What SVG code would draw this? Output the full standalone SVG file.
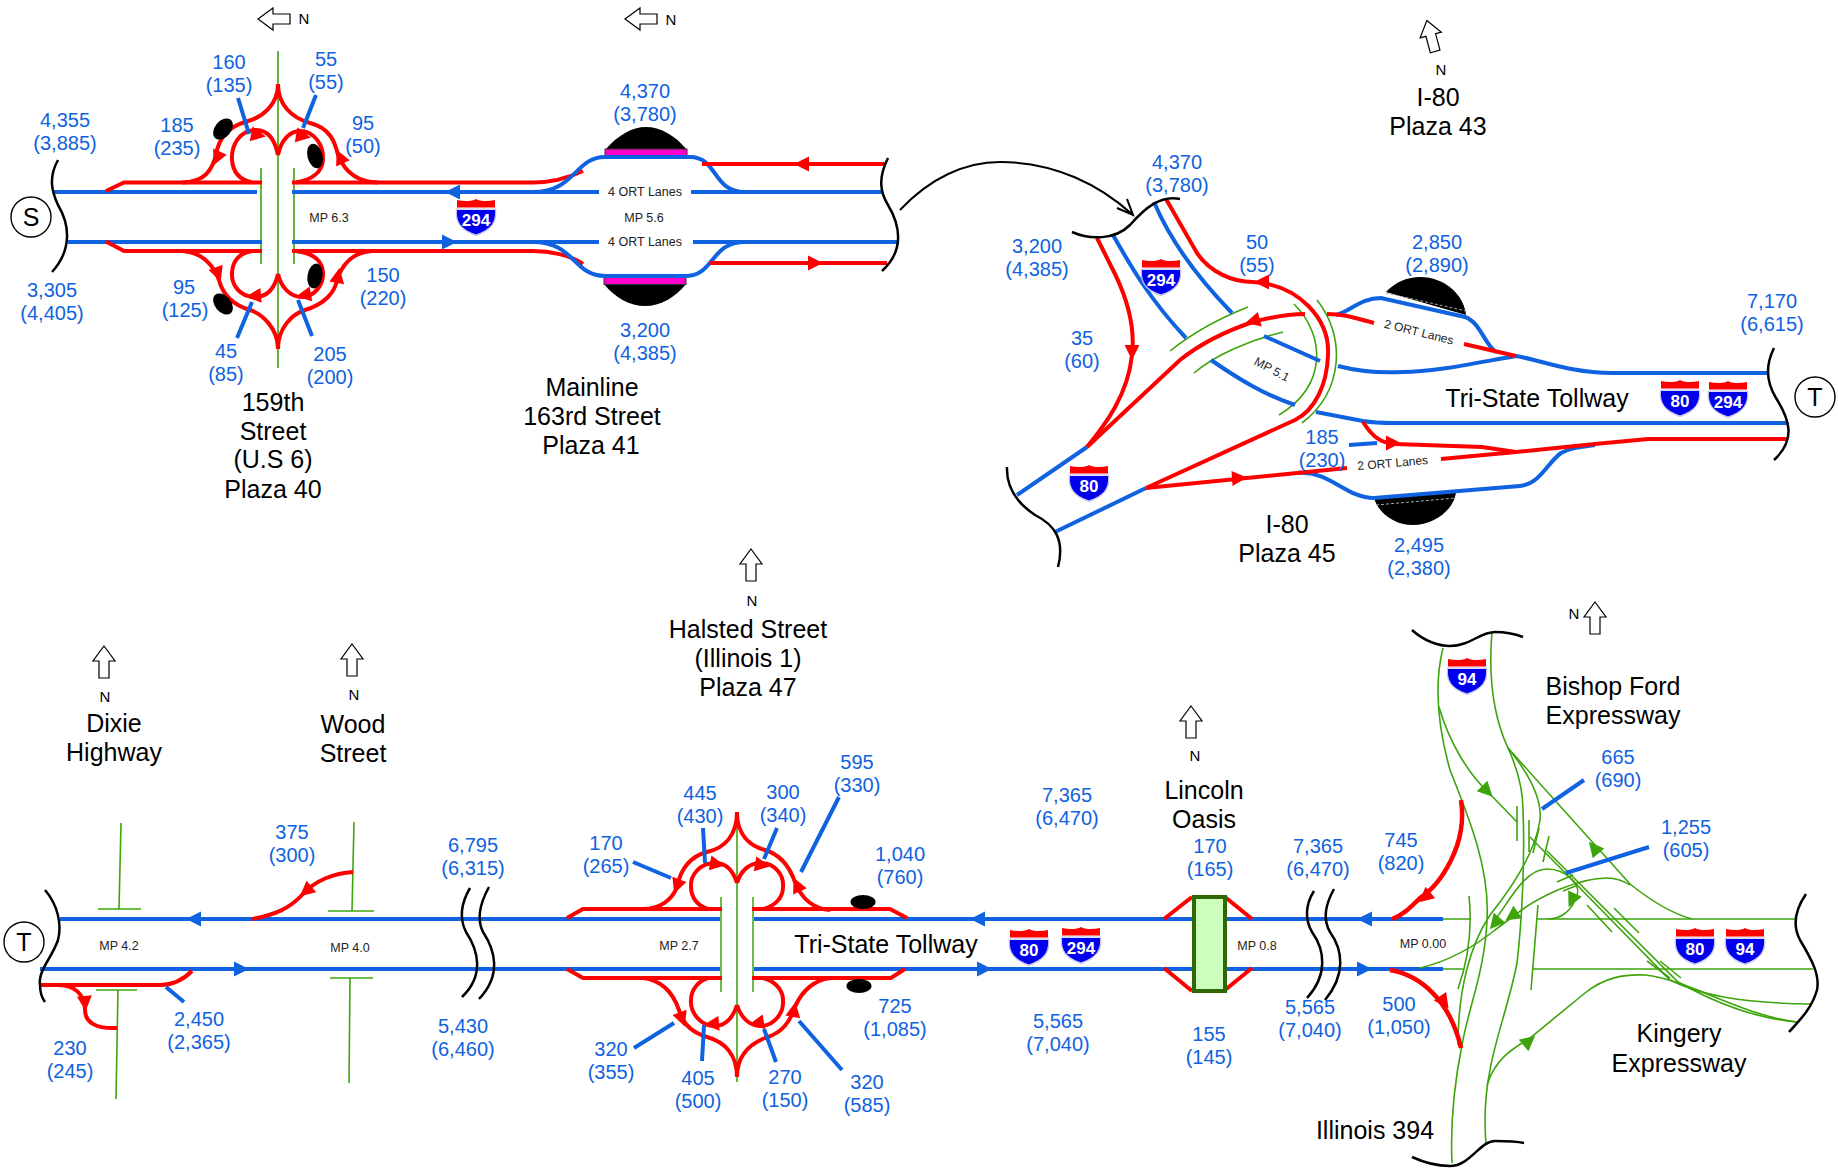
<svg xmlns="http://www.w3.org/2000/svg" xmlns:xlink="http://www.w3.org/1999/xlink" width="1838" height="1168" viewBox="0 0 1838 1168">
<style>
text{font-family:"Liberation Sans",Arial,sans-serif}
.b,.r,.g,.gl,.k,.dash{fill:none;stroke-linecap:butt}
.b{stroke:#0f62e0;stroke-width:4}
.r{stroke:#ff0000;stroke-width:4}
.g{stroke:#3da40c;stroke-width:1.6}
.gl{stroke:#6cbc4a;stroke-width:2}
.k{stroke:#000;stroke-width:2.5}
.af-r{fill:#ff0000}.af-b{fill:#0f62e0}.af-g{fill:#3da40c}
.v{fill:#0f62e0;font-size:20px;text-anchor:middle}
.t{fill:#000;font-size:25px;text-anchor:middle}
.m{fill:#222;font-size:12.5px;text-anchor:middle}
.n{fill:#000;font-size:15px;text-anchor:middle}
.s{fill:#fff;font-size:17px;font-weight:bold;text-anchor:middle}
.dash{stroke:#aaa;stroke-width:1;stroke-dasharray:3 2}
.north{fill:#fff;stroke:#000;stroke-width:1.2}
.c{fill:#fff;stroke:#000;stroke-width:1.4}
</style>
<defs>
<path id="a" d="M8 0L-7 -7.500L-7 7.500Z" style="stroke:none"/>
<path id="ag" d="M8 0L-7 -7.500L-7 7.500Z" style="stroke:none"/>
<g id="sh">
<path d="M-19.5 -8C-21 5 -16 13 0 18.5C16 13 21 5 19.5 -8Z" style="fill:#fff;stroke:#b8b8e8;stroke-width:1"/>
<path d="M-19 -7C-20 5 -15 12.5 0 17.5C15 12.5 20 5 19 -7Z" style="fill:#0000ee;stroke:none"/>
<path d="M-19 -9.5V-17C-12 -15.5 -4 -15.5 0 -18C4 -15.5 12 -15.5 19 -17V-9.5Z" style="fill:#ff0000;stroke:none"/>
</g>
<path id="up" d="M0 -16L11 -1H5V16H-5V-1H-11Z"/>
</defs>
<rect width="1838" height="1168" fill="#fff"/>

<g id="plaza-40">
<use href="#up" class="north" transform="translate(274,19) rotate(-90)"/>
<text class="n" x="304" y="24">N</text>
<g id="ramps-40">
<line class="g" x1="278" y1="51" x2="278" y2="368"/>
<line class="g" x1="261" y1="168" x2="261" y2="264"/>
<line class="g" x1="294" y1="168" x2="294" y2="264"/>
<path class="b" d="M54 192H257M292 192H599M68 242H262M292 242H599"/>
<path class="r" d="M106 191L124 182.500H262M292 182.500H533C550 182.500 568 178 583 171"/>
<path class="r" d="M106 241.500L124 251H262M292 251H533C550 251 570 255 583 264"/>
<path class="r" d="M278 84C278 105 262 118 245 122C225 128 218 142 216 155C212 170 205 182 182 182.500"/>
<path class="r" d="M278 84C278 105 292 118 310 123C330 128 335 142 338 155C344 170 355 182 378 182.500"/>
<path class="r" d="M278 155C275 140 268 130 256 130C240 130 231 145 232 160C233 172 240 180 252 182.500"/>
<path class="r" d="M278 155C281 140 290 131 300 131C314 131 324 145 323 160C322 172 312 180 296 182.500"/>
<path class="r" d="M278 349C278 328 262 314 250 310C230 304 222 292 219 280C212 262 200 252 182 251"/>
<path class="r" d="M278 349C278 328 292 314 305 310C325 304 335 292 337 280C343 262 355 252 372 251"/>
<path class="r" d="M278 274C275 287 268 297 255 297C240 297 231 285 232 272C233 260 240 253 252 251"/>
<path class="r" d="M278 274C281 287 290 297 302 297C314 297 324 285 323 272C322 260 312 253 296 251"/>
<use href="#a" class="af-r" transform="translate(217,158) rotate(115)"/>
<use href="#a" class="af-r" transform="translate(340,157) rotate(-115)"/>
<use href="#a" class="af-r" transform="translate(258,135) rotate(10)"/>
<use href="#a" class="af-r" transform="translate(303,136) rotate(10)"/>
<use href="#a" class="af-r" transform="translate(218,274) rotate(70)"/>
<use href="#a" class="af-r" transform="translate(338,276) rotate(-80)"/>
<use href="#a" class="af-r" transform="translate(254,296) rotate(175)"/>
<use href="#a" class="af-r" transform="translate(304,295) rotate(170)"/>
<use href="#a" class="af-b" transform="translate(453,192) rotate(180)"/>
<use href="#a" class="af-b" transform="translate(449,242)"/>
</g>
<ellipse cx="223" cy="129" rx="8" ry="12" transform="rotate(40 223 129)"/>
<ellipse cx="315" cy="156" rx="7.500" ry="12.500" transform="rotate(-15 315 156)"/>
<ellipse cx="223" cy="304" rx="8" ry="12" transform="rotate(-40 223 304)"/>
<ellipse cx="315" cy="276" rx="7.500" ry="12.500" transform="rotate(10 315 276)"/>
<path class="b" d="M238 98L249 134M316 95L303 128M237 338L252 302M312 336L298 300"/>
<path class="k" d="M58 160C48 178 52 192 58 205C70 225 72 250 52 272"/>
<circle class="c" cx="31" cy="217" r="20"/>
<text x="31" y="226" class="t">S</text>
<text class="m" x="329" y="222">MP 6.3</text>
<text class="v" x="65" y="127">4,355</text><text class="v" x="65" y="150">(3,885)</text>
<text class="v" x="52" y="297">3,305</text><text class="v" x="52" y="320">(4,405)</text>
<text class="v" x="177" y="132">185</text><text class="v" x="177" y="155">(235)</text>
<text class="v" x="184" y="294">95</text><text class="v" x="185" y="317">(125)</text>
<text class="v" x="229" y="69">160</text><text class="v" x="229" y="92">(135)</text>
<text class="v" x="326" y="66">55</text><text class="v" x="326" y="89">(55)</text>
<text class="v" x="363" y="130">95</text><text class="v" x="363" y="153">(50)</text>
<text class="v" x="383" y="282">150</text><text class="v" x="383" y="305">(220)</text>
<text class="v" x="226" y="358">45</text><text class="v" x="226" y="381">(85)</text>
<text class="v" x="330" y="361">205</text><text class="v" x="330" y="384">(200)</text>
<text class="t" x="273" y="411">159th</text><text class="t" x="273" y="440">Street</text><text class="t" x="273" y="468">(U.S 6)</text><text class="t" x="273" y="498">Plaza 40</text>
</g>

<g id="plaza-41">
<use href="#up" class="north" transform="translate(641,19) rotate(-90)"/>
<text class="n" x="671" y="25">N</text>
<path d="M605 150C618 135 632 127 646 127C660 127 675 135 687 150Z"/>
<path d="M604 284C615 298 630 306 645 306C660 306 675 298 686 284Z"/>
<rect x="605" y="149" width="82" height="7.500" fill="#ff00cc" stroke="#333" stroke-width="1"/>
<rect x="604" y="277" width="82" height="7.500" fill="#ff00cc" stroke="#333" stroke-width="1"/>
<g id="roads-41">
<path class="b" d="M691 192H883M693 242H898"/>
<path class="b" d="M533 192C575 192 575 157 605 157H690C718 157 712 192 745 192"/>
<path class="b" d="M533 242C575 242 573 276 605 276H685C715 276 710 242 745 242"/>
<path class="r" d="M702 164H885M710 263H887"/>
<use href="#a" class="af-r" transform="translate(802,164) rotate(180)"/>
<use href="#a" class="af-r" transform="translate(815,263)"/>
</g>
<use href="#sh" x="476" y="217"/><text class="s" x="476" y="226">294</text>
<text class="m" x="645" y="196">4 ORT Lanes</text>
<text class="m" x="644" y="222">MP 5.6</text>
<text class="m" x="645" y="246">4 ORT Lanes</text>
<path class="k" d="M888 158C878 178 880 192 888 205C900 225 905 250 882 271"/>
<text class="v" x="645" y="98">4,370</text><text class="v" x="645" y="121">(3,780)</text>
<text class="v" x="645" y="337">3,200</text><text class="v" x="645" y="360">(4,385)</text>
<text class="t" x="592" y="396">Mainline</text><text class="t" x="592" y="425">163rd Street</text><text class="t" x="591" y="454">Plaza 41</text>
</g>

<g id="link-arrow">
<path class="k" style="stroke-width:2" d="M900 210C930 178 965 162 1000 162C1055 162 1100 185 1133 215M1117 208L1133 215L1127 199"/>
</g>

<g id="plaza-45-43">
<use href="#up" class="north" transform="translate(1431,36) rotate(-15)"/>
<text class="n" x="1441" y="75">N</text>
<path d="M1386 292C1395 282 1408 277 1420 277C1445 277 1464 295 1466 315Z"/>
<path d="M1374 498L1456 492C1454 510 1434 525 1413 525C1393 525 1378 512 1374 498Z"/>
<line class="dash" x1="1386" y1="293" x2="1466" y2="311"/>
<line class="dash" x1="1376" y1="505" x2="1456" y2="498"/>
<g id="roads-45">
<path class="g" d="M1317 300C1345 335 1345 390 1302 423M1294 304C1325 335 1328 385 1279 415M1170 351C1190 335 1215 320 1248 307M1194 373C1215 355 1250 340 1283 332"/>
<path class="b" d="M1017 495L1087 447M1055 532L1146 488"/>
<path class="b" d="M1113 235C1130 265 1150 300 1186 338M1154 202C1170 240 1195 275 1232 313"/>
<path class="b" d="M1211 360C1240 380 1265 395 1295 405M1264 336L1320 361"/>
<path class="b" d="M1338 366C1365 373 1385 373 1403 372C1435 372 1475 363 1516 356C1540 360 1570 373 1612 373H1768"/>
<path class="b" d="M1336 315C1350 312 1360 298 1381 298L1465 317C1480 322 1485 345 1496 352"/>
<path class="b" d="M1316 412L1363 421C1375 423 1385 423 1393 423H1787"/>
<path class="b" d="M1297 473C1330 470 1345 498 1374 498L1520 486C1540 484 1548 462 1561 453C1570 448 1580 447 1595 445"/>
<path class="r" d="M1097 238L1115 274C1130 305 1135 330 1132 355C1128 395 1105 425 1087 447"/>
<path class="r" d="M1166 199L1197 253C1210 272 1232 282 1253 282C1300 285 1330 320 1328 355C1327 385 1315 410 1295 420L1146 488"/>
<path class="r" d="M1087 447L1180 360C1205 340 1235 328 1253 322C1275 316 1290 314 1305 314M1327 314C1345 314 1355 318 1374 323"/>
<path class="r" d="M1146 488L1297 473L1347 468"/>
<path class="r" d="M1464 344L1516 356"/>
<path class="r" d="M1441 459L1516 452L1595 444L1648 439H1787"/>
<path class="r" d="M1363 422C1372 436 1380 443 1395 444L1482 447L1516 452"/>
<use href="#a" class="af-r" transform="translate(1132,352) rotate(90)"/>
<use href="#a" class="af-r" transform="translate(1262,282) rotate(180)"/>
<use href="#a" class="af-r" transform="translate(1253,321) rotate(165)"/>
<use href="#a" class="af-r" transform="translate(1239,478) rotate(-4)"/>
<use href="#a" class="af-r" transform="translate(1393,443)"/>
</g>
<path class="b" d="M1349 445L1377 443"/>
<path class="k" d="M1072 232C1090 240 1115 240 1130 225C1145 208 1160 195 1180 199"/>
<path class="k" d="M1007 467C1006 490 1020 505 1035 515C1055 525 1065 540 1058 567"/>
<path class="k" d="M1774 348C1764 368 1768 385 1776 398C1790 420 1796 440 1774 460"/>
<use href="#sh" x="1161" y="277"/><text class="s" x="1161" y="286">294</text>
<use href="#sh" x="1089" y="483"/><text class="s" x="1089" y="492">80</text>
<use href="#sh" x="1680" y="398"/><text class="s" x="1680" y="407">80</text>
<use href="#sh" x="1728" y="399"/><text class="s" x="1728" y="408">294</text>
<circle class="c" cx="1815" cy="397" r="20"/>
<text x="1815" y="406" class="t">T</text>
<text class="m" style="font-size:12px" transform="translate(1270,373) rotate(28)">MP 5.1</text>
<text class="m" style="font-size:12px" transform="translate(1418,336) rotate(14)">2 ORT Lanes</text>
<text class="m" style="font-size:12px" transform="translate(1393,467) rotate(-5)">2 ORT Lanes</text>
<text class="t" x="1537" y="407">Tri-State Tollway</text>
<text class="v" x="1177" y="169">4,370</text><text class="v" x="1177" y="192">(3,780)</text>
<text class="v" x="1037" y="253">3,200</text><text class="v" x="1037" y="276">(4,385)</text>
<text class="v" x="1082" y="345">35</text><text class="v" x="1082" y="368">(60)</text>
<text class="v" x="1257" y="249">50</text><text class="v" x="1257" y="272">(55)</text>
<text class="v" x="1322" y="444">185</text><text class="v" x="1322" y="467">(230)</text>
<text class="v" x="1437" y="249">2,850</text><text class="v" x="1437" y="272">(2,890)</text>
<text class="v" x="1419" y="552">2,495</text><text class="v" x="1419" y="575">(2,380)</text>
<text class="v" x="1772" y="308">7,170</text><text class="v" x="1772" y="331">(6,615)</text>
<text class="t" x="1287" y="533">I-80</text><text class="t" x="1287" y="562">Plaza 45</text>
<text class="t" x="1438" y="106">I-80</text><text class="t" x="1438" y="135">Plaza 43</text>
</g>

<g id="tollway-south">
<g id="roads-south">
<path class="gl" d="M98 909H141M96 990H137M328 911H374M330 978H373"/>
<path class="g" d="M121 823L119 909M118 990L116 1099M354 822L352 911M350 978L349 1083"/>
<path class="b" d="M60 919H722M752 919H1443M40 969H722M752 969H1443"/>
<path class="r" d="M40 985H160C173 985 183 980 192 971"/>
<path class="r" d="M58 985C75 985 85 995 85 1010C85 1022 95 1029 117 1028"/>
<path class="r" d="M252 919C275 915 290 908 302 895C315 880 335 873 353 872"/>
<use href="#a" class="af-r" transform="translate(85,1003) rotate(85)"/>
<use href="#a" class="af-r" transform="translate(306,891) rotate(140)"/>
<use href="#a" class="af-b" transform="translate(194,919) rotate(180)"/>
<use href="#a" class="af-b" transform="translate(241,969)"/>
<use href="#a" class="af-b" transform="translate(978,919) rotate(180)"/>
<use href="#a" class="af-b" transform="translate(984,969)"/>
<use href="#a" class="af-b" transform="translate(1365,919) rotate(180)"/>
<use href="#a" class="af-b" transform="translate(1364,969)"/>
</g>
<path class="b" d="M166 987L184 1002"/>
<path class="k" d="M45 890C58 905 62 925 58 940C52 958 38 970 40 985C40 992 42 998 45 1002"/>
<circle class="c" cx="24" cy="942" r="20"/>
<text x="24" y="951" class="t">T</text>
<path class="k" d="M470 888C460 905 460 920 466 932C478 950 485 975 462 997M489 887C479 905 477 920 483 932C495 950 502 975 479 999"/>
<path class="k" d="M1314 891C1305 905 1305 920 1312 932C1325 950 1328 975 1307 998M1334 889C1325 905 1323 920 1330 932C1343 950 1346 975 1325 1000"/>
<use href="#up" class="north" transform="translate(104,662)"/><text class="n" x="105" y="702">N</text>
<use href="#up" class="north" transform="translate(352,660)"/><text class="n" x="354" y="700">N</text>
<text class="t" x="114" y="732">Dixie</text><text class="t" x="114" y="761">Highway</text>
<text class="t" x="353" y="733">Wood</text><text class="t" x="353" y="762">Street</text>
<text class="m" x="119" y="950">MP 4.2</text><text class="m" x="350" y="952">MP 4.0</text>
<text class="v" x="292" y="839">375</text><text class="v" x="292" y="862">(300)</text>
<text class="v" x="473" y="852">6,795</text><text class="v" x="473" y="875">(6,315)</text>
<text class="v" x="463" y="1033">5,430</text><text class="v" x="463" y="1056">(6,460)</text>
<text class="v" x="199" y="1026">2,450</text><text class="v" x="199" y="1049">(2,365)</text>
<text class="v" x="70" y="1055">230</text><text class="v" x="70" y="1078">(245)</text>
</g>

<g id="plaza-47">
<use href="#up" class="north" transform="translate(751,565)"/><text class="n" x="752" y="606">N</text>
<text class="t" x="748" y="638">Halsted Street</text><text class="t" x="748" y="667">(Illinois 1)</text><text class="t" x="748" y="696">Plaza 47</text>
<g id="roads-47">
<line class="g" x1="737" y1="815" x2="737" y2="1082"/>
<line class="gl" x1="721" y1="897" x2="721" y2="992"/><line class="gl" x1="753" y1="897" x2="753" y2="992"/>
<path class="r" d="M567 918L583 909H722M752 909H890L907 918"/>
<path class="r" d="M567 969L583 978H722M752 978H891L905 969"/>
<path class="r" d="M737 812C737 835 725 848 707 852C688 857 680 872 677 887C672 900 660 909 643 909"/>
<path class="r" d="M737 812C737 835 750 846 765 850C782 855 790 868 795 882C802 900 815 909 830 910"/>
<path class="r" d="M737 883C733 870 725 863 715 863C700 863 690 875 691 887C691 898 698 906 708 909"/>
<path class="r" d="M737 883C741 870 750 863 760 863C775 863 784 875 783 887C783 898 775 906 763 909"/>
<path class="r" d="M737 1077C737 1055 725 1042 707 1037C690 1032 682 1022 679 1010C672 990 660 980 643 978"/>
<path class="r" d="M737 1077C737 1055 750 1044 765 1038C782 1033 790 1022 795 1007C802 990 815 980 830 978"/>
<path class="r" d="M737 1005C733 1018 725 1026 715 1026C700 1026 690 1012 691 1000C691 990 698 981 708 978"/>
<path class="r" d="M737 1005C741 1018 750 1026 760 1026C775 1026 784 1012 783 1000C783 990 775 981 763 978"/>
<use href="#a" class="af-r" transform="translate(677,886) rotate(110)"/>
<use href="#a" class="af-r" transform="translate(717,864) rotate(10)"/>
<use href="#a" class="af-r" transform="translate(762,865) rotate(10)"/>
<use href="#a" class="af-r" transform="translate(797,885) rotate(-115)"/>
<use href="#a" class="af-r" transform="translate(682,1019) rotate(70)"/>
<use href="#a" class="af-r" transform="translate(712,1024) rotate(175)"/>
<use href="#a" class="af-r" transform="translate(757,1023) rotate(170)"/>
<use href="#a" class="af-r" transform="translate(794,1010) rotate(-80)"/>
</g>
<ellipse cx="863" cy="902" rx="12.500" ry="7"/><ellipse cx="859" cy="986" rx="12.500" ry="7"/>
<path class="b" d="M633 862L671 878M703 828L705 863M777 828L764 859M839 797L801 872M674 1023L634 1048M704 1025L702 1061M764 1029L776 1062M799 1021L842 1070"/>
<text class="m" x="679" y="950">MP 2.7</text>
<text class="t" x="886" y="953">Tri-State Tollway</text>
<use href="#sh" x="1029" y="947"/><text class="s" x="1029" y="956">80</text>
<use href="#sh" x="1081" y="945"/><text class="s" x="1081" y="954">294</text>
<text class="v" x="606" y="850">170</text><text class="v" x="606" y="873">(265)</text>
<text class="v" x="700" y="800">445</text><text class="v" x="700" y="823">(430)</text>
<text class="v" x="783" y="799">300</text><text class="v" x="783" y="822">(340)</text>
<text class="v" x="857" y="769">595</text><text class="v" x="857" y="792">(330)</text>
<text class="v" x="900" y="861">1,040</text><text class="v" x="900" y="884">(760)</text>
<text class="v" x="895" y="1013">725</text><text class="v" x="895" y="1036">(1,085)</text>
<text class="v" x="611" y="1056">320</text><text class="v" x="611" y="1079">(355)</text>
<text class="v" x="698" y="1085">405</text><text class="v" x="698" y="1108">(500)</text>
<text class="v" x="785" y="1084">270</text><text class="v" x="785" y="1107">(150)</text>
<text class="v" x="867" y="1089">320</text><text class="v" x="867" y="1112">(585)</text>
<text class="v" x="1067" y="802">7,365</text><text class="v" x="1067" y="825">(6,470)</text>
<text class="v" x="1058" y="1028">5,565</text><text class="v" x="1058" y="1051">(7,040)</text>
</g>

<g id="lincoln-oasis">
<path class="r" d="M1164 919L1192 897M1225 897L1252 919M1164 968L1192 991M1225 990L1252 968"/>
<rect x="1194" y="897" width="31" height="94" fill="#ccffbb" stroke="#2d6a05" stroke-width="4"/>
<use href="#up" class="north" transform="translate(1191,722)"/><text class="n" x="1195" y="761">N</text>
<text class="t" x="1204" y="799">Lincoln</text><text class="t" x="1204" y="828">Oasis</text>
<text class="m" x="1257" y="950">MP 0.8</text>
<text class="v" x="1210" y="853">170</text><text class="v" x="1210" y="876">(165)</text>
<text class="v" x="1209" y="1041">155</text><text class="v" x="1209" y="1064">(145)</text>
<text class="v" x="1318" y="853">7,365</text><text class="v" x="1318" y="876">(6,470)</text>
<text class="v" x="1310" y="1014">5,565</text><text class="v" x="1310" y="1037">(7,040)</text>
</g>

<g id="interchange">
<g id="roads-interchange">
<path class="g" d="M1443 648C1435 680 1436 720 1450 770C1470 820 1490 870 1487 920C1485 970 1468 1010 1462 1045C1455 1080 1450 1120 1452 1163"/>
<path class="g" d="M1439 707C1450 745 1470 775 1487 791L1517 822"/>
<path class="g" d="M1492 632C1488 680 1495 720 1508 748C1518 770 1523 790 1523 810C1525 860 1522 920 1517 963C1510 1000 1495 1040 1490 1070C1485 1095 1484 1120 1486 1144"/>
<path class="g" d="M1508 748L1630 884C1650 900 1670 913 1692 919"/>
<path class="g" d="M1508 748C1530 775 1542 800 1540 820C1535 855 1510 890 1490 915C1470 945 1458 990 1458 1045"/>
<path class="g" d="M1530 837L1670 980C1700 995 1740 1003 1810 1004"/>
<path class="g" d="M1547 851L1678 982C1710 1000 1750 1018 1797 1022"/>
<path class="g" d="M1487 1085C1495 1060 1510 1050 1530 1038L1585 993C1605 977 1625 974 1645 975C1690 980 1740 1015 1797 1022"/>
<path class="g" d="M1443 919H1470M1537 919H1796M1443 969H1463M1532 969H1813"/>
<path class="g" d="M1469 896C1472 925 1470 955 1458 989M1538 905L1531 990M1517 806V841M1529 820V852M1539 828L1533 853M1549 836L1543 862M1557 882L1573 875M1563 891L1578 885M1587 905L1612 932M1614 908L1639 933M1647 961L1670 978M1660 961L1681 978"/>
<path class="g" d="M1420 968C1445 962 1470 950 1495 930L1515 915C1540 895 1580 878 1607 878C1615 878 1622 880 1630 885"/>
<path class="g" d="M1495 920C1510 900 1525 869 1547 869C1565 869 1585 885 1575 900C1570 912 1560 919 1548 919"/>
<use href="#ag" class="af-g" transform="translate(1487,791) rotate(45)"/>
<use href="#ag" class="af-g" transform="translate(1594,848) rotate(-130)"/>
<use href="#ag" class="af-g" transform="translate(1572,900) rotate(115)"/>
<use href="#ag" class="af-g" transform="translate(1512,916) rotate(145)"/>
<use href="#ag" class="af-g" transform="translate(1495,923) rotate(130)"/>
<use href="#ag" class="af-g" transform="translate(1529,1041) rotate(-40)"/>
<path class="r" style="stroke-width:4.500" d="M1461 800C1468 845 1440 885 1420 898C1410 908 1403 915 1392 919"/>
<path class="r" style="stroke-width:4.500" d="M1390 970C1420 975 1450 1000 1461 1048"/>
<use href="#a" class="af-r" transform="translate(1425,897) rotate(140)"/>
<use href="#a" class="af-r" transform="translate(1444,1002) rotate(55)"/>
</g>
<path class="b" d="M1542 809L1584 780M1566 873L1649 847"/>
<path class="k" d="M1412 630C1425 642 1440 646 1450 646C1470 646 1480 632 1495 632C1505 632 1515 634 1523 637"/>
<path class="k" d="M1412 1157C1425 1163 1440 1166 1450 1166C1470 1166 1480 1141 1495 1141C1505 1141 1515 1141 1524 1143"/>
<path class="k" d="M1806 894C1795 910 1792 925 1800 940C1812 960 1820 975 1817 990C1812 1008 1800 1020 1789 1032"/>
<use href="#up" class="north" transform="translate(1595,618)"/><text class="n" x="1574" y="619">N</text>
<use href="#sh" x="1467" y="676"/><text class="s" x="1467" y="685">94</text>
<use href="#sh" x="1695" y="946"/><text class="s" x="1695" y="955">80</text>
<use href="#sh" x="1745" y="946"/><text class="s" x="1745" y="955">94</text>
<text class="m" x="1423" y="948">MP 0.00</text>
<text class="t" x="1613" y="695">Bishop Ford</text><text class="t" x="1613" y="724">Expressway</text>
<text class="t" x="1679" y="1042">Kingery</text><text class="t" x="1679" y="1072">Expressway</text>
<text class="t" x="1375" y="1139">Illinois 394</text>
<text class="v" x="1618" y="764">665</text><text class="v" x="1618" y="787">(690)</text>
<text class="v" x="1686" y="834">1,255</text><text class="v" x="1686" y="857">(605)</text>
<text class="v" x="1401" y="847">745</text><text class="v" x="1401" y="870">(820)</text>
<text class="v" x="1399" y="1011">500</text><text class="v" x="1399" y="1034">(1,050)</text>
</g>
</svg>
